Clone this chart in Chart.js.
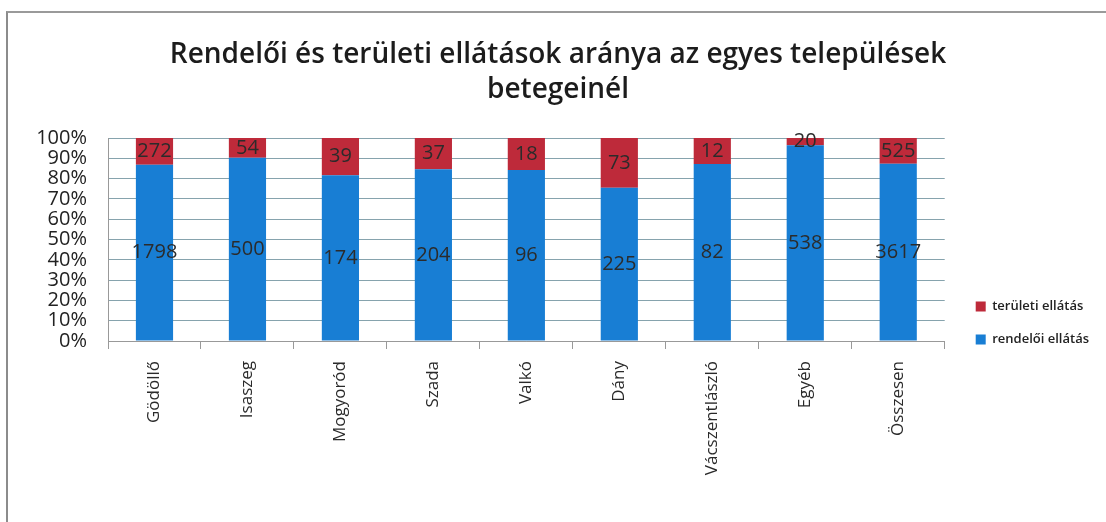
<!DOCTYPE html>
<html>
<head>
<meta charset="utf-8">
<script src="https://cdn.jsdelivr.net/npm/chart.js@4/dist/chart.umd.min.js"></script>
<style>
  html, body { margin: 0; padding: 0; background: #fff; }
  #wrap { position: relative; width: 1106px; height: 522px; overflow: hidden; }
  #frame { position: absolute; left: 6px; top: 11px; width: 1120px; height: 600px;
           border-left: 2px solid #8c8c8c; border-top: 2px solid #9a9a9a; }
  #c { position: absolute; left: 0; top: 0; }
</style>
</head>
<body>
<div id="wrap">
  <div id="frame"></div>
  <canvas id="c" width="1106" height="522"></canvas>
</div>
<script>
// települések
var categories = ["Gödöllő", "Isaszeg", "Mogyoród", "Szada", "Valkó", "Dány", "Vácszentlászló", "Egyéb", "Összesen"];
// betegszámok
var rendeloi = [1798, 500, 174, 204, 96, 225, 82, 538, 3617];
var teruleti = [272, 54, 39, 37, 18, 73, 12, 20, 525];
var yTicks = [0, 10, 20, 30, 40, 50, 60, 70, 80, 90, 100];

var blue = "rgb(24,126,212)";
var red = "rgb(190,42,58)";

// 100%-os halmozás
function share(arr) {
  return arr.map(function (v, i) {
    return v / (rendeloi[i] + teruleti[i]) * 100;
  });
}

var valueLabels = {
  id: "valueLabels",
  afterDatasetsDraw: function (chart) {
    var ctx = chart.ctx;
    ctx.save();
    ctx.font = "20px 'Open Sans'";
    ctx.fillStyle = "#2b2b2b";
    ctx.textAlign = "center";
    ctx.textBaseline = "middle";
    chart.data.datasets.forEach(function (ds, di) {
      chart.getDatasetMeta(di).data.forEach(function (bar, i) {
        var p = bar.getProps(["x", "y", "base"], true);
        ctx.fillText(ds.counts[i], p.x, (p.y + p.base) / 2);
      });
    });
    ctx.restore();
  }
};

// jelmagyarázat a diagram alja mellé, cím kicsit jobbra
var boxShift = {
  id: "boxShift",
  afterLayout: function (chart) {
    var lg = chart.legend;
    lg.left += 11; lg.right += 11;
    lg.top += 62; lg.bottom += 62;
    var tb = chart.titleBlock;
    tb.left += 14; tb.right += 14;
  }
};

var ctx = document.getElementById("c").getContext("2d");
var chart = new Chart(ctx, {
  type: "bar",
  data: {
    labels: categories,
    datasets: [
      { label: "rendelői ellátás", data: share(rendeloi), counts: rendeloi, backgroundColor: blue },
      { label: "területi ellátás", data: share(teruleti), counts: teruleti, backgroundColor: red }
    ]
  },
  options: {
    responsive: false,
    animation: false,
    layout: { padding: { left: 0, right: 18, top: 0, bottom: 0 } },
    datasets: { bar: { barPercentage: 0.4, categoryPercentage: 1 } },
    plugins: {
      title: {
        display: true,
        text: ["Rendelői és területi ellátások aránya az egyes települések", "betegeinél"],
        color: "#1c1c1c",
        font: { family: "'Open Sans'", size: 28, weight: "600", lineHeight: 1.25 },
        padding: { top: 38, bottom: 30 }
      },
      legend: {
        position: "right",
        align: "center",
        reverse: true,
        labels: {
          boxWidth: 10,
          boxHeight: 10,
          padding: 20,
          color: "#222",
          font: { family: "'Open Sans'", size: 13, weight: "600" }
        }
      },
      tooltip: { enabled: false }
    },
    scales: {
      x: {
        stacked: true,
        afterFit: function (s) { s.height = 181; },
        grid: { display: true, drawOnChartArea: false, drawTicks: true, tickLength: 8, color: "#999" },
        border: { color: "#999" },
        ticks: {
          minRotation: 90, maxRotation: 90, padding: 12,
          color: "#2a2a2a",
          font: { family: "'Open Sans'", size: 17 }
        }
      },
      y: {
        stacked: true,
        min: 0, max: 100,
        afterFit: function (s) { s.width = 108; },
        afterBuildTicks: function (s) { s.ticks = yTicks.map(function (v) { return { value: v }; }); },
        grid: { color: "#86a3ad", drawTicks: false },
        border: { color: "#999" },
        ticks: {
          autoSkip: false, padding: 21,
          color: "#222",
          font: { family: "'Open Sans'", size: 20 },
          callback: function (v) { return v + "%"; }
        }
      }
    }
  },
  plugins: [valueLabels, boxShift]
});
</script>
</body>
</html>
